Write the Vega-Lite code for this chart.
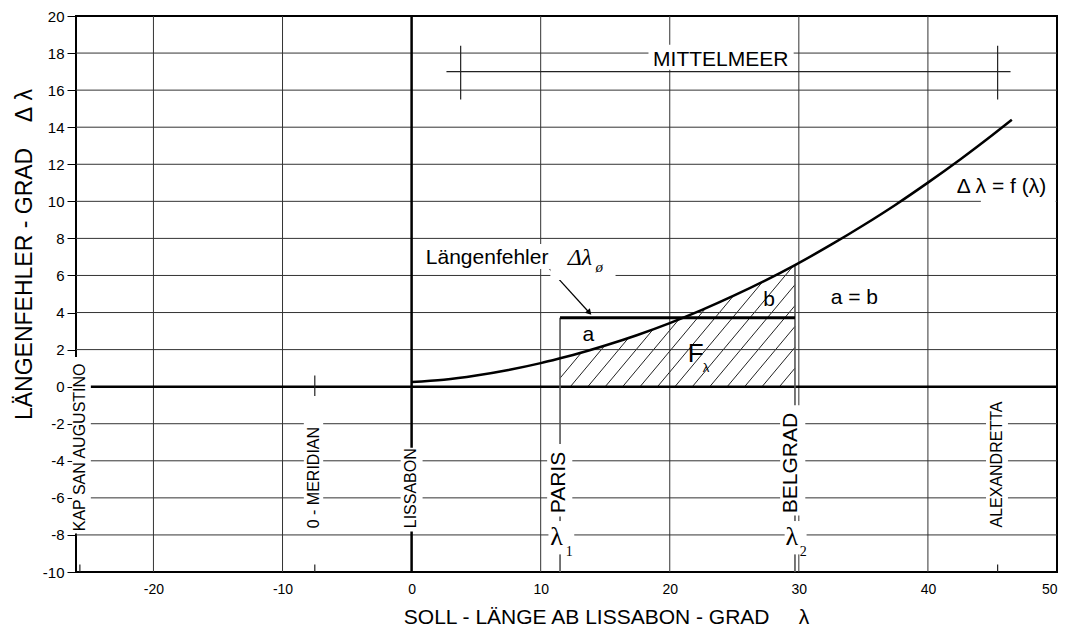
{
  "$schema": "https://vega.github.io/schema/vega-lite/v6.json",
  "width": 981,
  "height": 556,
  "autosize": {"type": "none"},
  "padding": {"left": 76, "top": 16, "right": 14, "bottom": 62},
  "background": "white",
  "config": {
    "view": {"stroke": "black", "strokeWidth": 2},
    "font": "Liberation Sans",
    "mark": {"color": "black"}
  },
  "datasets": {
    "curve": [
      {"x": 0, "y": 0.25}, {"x": 2.5, "y": 0.37}, {"x": 5, "y": 0.6}, {"x": 7.5, "y": 0.9},
      {"x": 10, "y": 1.27}, {"x": 11.5, "y": 1.53}, {"x": 12.5, "y": 1.71}, {"x": 15, "y": 2.22},
      {"x": 17.5, "y": 2.79}, {"x": 20, "y": 3.43}, {"x": 22.5, "y": 4.14}, {"x": 25, "y": 4.92},
      {"x": 27.5, "y": 5.76}, {"x": 29.7, "y": 6.56}, {"x": 32.5, "y": 7.66}, {"x": 35, "y": 8.71},
      {"x": 37.5, "y": 9.82}, {"x": 40, "y": 11.01}, {"x": 42.5, "y": 12.26}, {"x": 45, "y": 13.58},
      {"x": 46.5, "y": 14.4}
    ],
    "mask": [
      {"x": 11.5, "y": 1.53, "top": 7.3}, {"x": 12.5, "y": 1.71, "top": 7.3}, {"x": 15, "y": 2.22, "top": 7.3},
      {"x": 17.5, "y": 2.79, "top": 7.3}, {"x": 20, "y": 3.43, "top": 7.3}, {"x": 22.5, "y": 4.14, "top": 7.3},
      {"x": 25, "y": 4.92, "top": 7.3}, {"x": 27.5, "y": 5.76, "top": 7.3}, {"x": 29.7, "y": 6.56, "top": 7.3}
    ],
    "hatch": [
      {"x": 11.5, "y": 0.458, "x2": 19.35, "y2": 7},
      {"x": 12.3, "y": 0, "x2": 20.7, "y2": 7},
      {"x": 13.65, "y": 0, "x2": 22.05, "y2": 7},
      {"x": 15.0, "y": 0, "x2": 23.4, "y2": 7},
      {"x": 16.35, "y": 0, "x2": 24.75, "y2": 7},
      {"x": 17.7, "y": 0, "x2": 26.1, "y2": 7},
      {"x": 19.05, "y": 0, "x2": 27.45, "y2": 7},
      {"x": 20.4, "y": 0, "x2": 28.8, "y2": 7},
      {"x": 21.75, "y": 0, "x2": 29.7, "y2": 6.625},
      {"x": 23.1, "y": 0, "x2": 29.7, "y2": 5.5},
      {"x": 24.45, "y": 0, "x2": 29.7, "y2": 4.375},
      {"x": 25.8, "y": 0, "x2": 29.7, "y2": 3.25},
      {"x": 27.15, "y": 0, "x2": 29.7, "y2": 2.125},
      {"x": 28.5, "y": 0, "x2": 29.7, "y2": 1.0}
    ],
    "grid": [
      {"x": -20, "y": -10, "x2": -20, "y2": 20},
      {"x": -10, "y": -10, "x2": -10, "y2": 20},
      {"x": 10, "y": -10, "x2": 10, "y2": 20},
      {"x": 20, "y": -10, "x2": 20, "y2": 20},
      {"x": 30, "y": -10, "x2": 30, "y2": 20},
      {"x": 40, "y": -10, "x2": 40, "y2": 20},
      {"x": -26, "y": -8, "x2": 50, "y2": -8},
      {"x": -26, "y": -6, "x2": 50, "y2": -6},
      {"x": -26, "y": -4, "x2": 50, "y2": -4},
      {"x": -26, "y": -2, "x2": 50, "y2": -2},
      {"x": -26, "y": 2, "x2": 50, "y2": 2},
      {"x": -26, "y": 4, "x2": 50, "y2": 4},
      {"x": -26, "y": 6, "x2": 50, "y2": 6},
      {"x": -26, "y": 8, "x2": 50, "y2": 8},
      {"x": -26, "y": 10, "x2": 50, "y2": 10},
      {"x": -26, "y": 12, "x2": 50, "y2": 12},
      {"x": -26, "y": 14, "x2": 50, "y2": 14},
      {"x": -26, "y": 16, "x2": 50, "y2": 16},
      {"x": -26, "y": 18, "x2": 50, "y2": 18}
    ],
    "zerolines": [
      {"x": 0, "y": -10, "x2": 0, "y2": 20},
      {"x": -26, "y": 0, "x2": 50, "y2": 0}
    ],
    "citylines": [
      {"x": 11.5, "y": -10, "x2": 11.5, "y2": 3.72},
      {"x": 29.7, "y": -10, "x2": 29.7, "y2": 6.56}
    ],
    "ticks": [
      {"x": -7.5, "y": -0.5, "x2": -7.5, "y2": 0.6},
      {"x": -7.5, "y": -10, "x2": -7.5, "y2": -9.6},
      {"x": -25.7, "y": -10, "x2": -25.7, "y2": -9.6},
      {"x": 45.4, "y": -10, "x2": 45.4, "y2": -9.6},
      {"x": 2.7, "y": 17, "x2": 46.4, "y2": 17},
      {"x": 3.8, "y": 15.5, "x2": 3.8, "y2": 18.4},
      {"x": 45.4, "y": 15.5, "x2": 45.4, "y2": 18.4}
    ],
    "lenline": [{"x": 11.5, "y": 3.72, "x2": 29.7, "y2": 3.72}],
    "arrow": [{"x": 10.7, "y": 6.34, "x2": 13.72, "y2": 4.03}],
    "arrowhead": [{"x": 13.72, "y": 4.03}],
    "boxes": [
      {"x": -26.3, "x2": -24.85, "y": -7.92, "y2": 1.6},
      {"x": -8.35, "x2": -6.85, "y": -7.85, "y2": -1.95},
      {"x": -0.85, "x2": 0.85, "y": -7.82, "y2": -3.3},
      {"x": 10.5, "x2": 12.45, "y": -7.0, "y2": -3.1},
      {"x": 10.6, "x2": 12.6, "y": -9.05, "y2": -7.25},
      {"x": 28.55, "x2": 30.5, "y": -6.95, "y2": -1.0},
      {"x": 28.9, "x2": 30.6, "y": -9.05, "y2": -7.25},
      {"x": 44.5, "x2": 46.2, "y": -7.8, "y2": -0.6},
      {"x": 18.35, "x2": 29.6, "y": 17.1, "y2": 18.45},
      {"x": 1.0, "x2": 10.75, "y": 6.35, "y2": 7.7},
      {"x": 10.75, "x2": 15.8, "y": 5.75, "y2": 7.6},
      {"x": 44.1, "x2": 49.9, "y": 9.85, "y2": 10.4}
    ],
    "smallcity": [
      {"x": -25.7, "y": -7.8, "t": "KAP SAN AUGUSTINO"},
      {"x": -7.6, "y": -7.64, "t": "0 - MERIDIAN"},
      {"x": -0.02, "y": -7.64, "t": "LISSABON"},
      {"x": 45.35, "y": -7.6, "t": "ALEXANDRETTA"}
    ],
    "bigcity": [
      {"x": 11.43, "y": -6.83, "t": "PARIS"},
      {"x": 29.43, "y": -6.83, "t": "BELGRAD"}
    ],
    "lambdas": [
      {"x": 10.75, "y": -8.54, "t": "λ"},
      {"x": 28.97, "y": -8.54, "t": "λ"}
    ],
    "lambdasubs": [
      {"x": 11.94, "y": -9.13, "t": "1"},
      {"x": 30.08, "y": -9.13, "t": "2"}
    ],
    "centerlabels": [
      {"x": 13.7, "y": 2.48, "t": "a"},
      {"x": 27.7, "y": 4.36, "t": "b"},
      {"x": 34.3, "y": 4.45, "t": "a = b"},
      {"x": 23.95, "y": 17.31, "t": "MITTELMEER"},
      {"x": 45.7, "y": 10.43, "t": "Δ λ = f (λ)"}
    ],
    "leftlabels": [{"x": 1.1, "y": 6.62, "t": "Längenfehler"}],
    "dl": [{"x": 12.09, "y": 6.57, "t": "Δλ"}],
    "dlsub": [{"x": 14.25, "y": 6.2, "t": "ø"}],
    "F": [{"x": 21.4, "y": 1.35, "t": "F"}],
    "Fsub": [{"x": 22.55, "y": 0.81, "t": "λ"}]
  },
  "encoding": {
    "x": {
      "field": "x", "type": "quantitative",
      "scale": {"domain": [-26, 50], "nice": false, "zero": false},
      "axis": {
        "values": [-20, -10, 0, 10, 20, 30, 40, 50],
        "grid": false, "domain": false, "ticks": false, "labelOverlap": false,
        "labelExpr": "'' + datum.value",
        "labelPadding": 10, "labelFontSize": 14, "labelColor": "black", "labelFont": "Liberation Sans",
        "title": "SOLL - LÄNGE AB LISSABON - GRAD\u00a0\u00a0\u00a0\u00a0\u00a0λ",
        "titleFontSize": 21, "titleFontWeight": "normal", "titleColor": "black", "titleFont": "Liberation Sans",
        "titlePadding": 10, "titleX": 530
      }
    },
    "y": {
      "field": "y", "type": "quantitative",
      "scale": {"domain": [-10, 20], "nice": false, "zero": false},
      "axis": {
        "values": [-10, -8, -6, -4, -2, 0, 2, 4, 6, 8, 10, 12, 14, 16, 18, 20],
        "grid": false, "domain": false, "ticks": true, "tickSize": 9, "tickColor": "black", "tickWidth": 1,
        "labelOverlap": false, "labelExpr": "'' + datum.value",
        "labelPadding": 3, "labelFontSize": 15, "labelColor": "black", "labelFont": "Liberation Sans",
        "title": "LÄNGENFEHLER - GRAD\u00a0\u00a0\u00a0\u00a0Δ\u00a0λ",
        "titleFontSize": 23, "titleFontWeight": "normal", "titleColor": "black", "titleFont": "Liberation Sans",
        "titlePadding": 6, "titleY": 238
      }
    }
  },
  "layer": [
    {
      "data": {"name": "hatch"},
      "mark": {"type": "rule", "strokeWidth": 1, "color": "#222"},
      "encoding": {"x2": {"field": "x2"}, "y2": {"field": "y2"}}
    },
    {
      "data": {"name": "mask"},
      "mark": {"type": "area", "color": "white", "fill": "white", "opacity": 1, "interpolate": "monotone"},
      "encoding": {"y2": {"field": "top"}}
    },
    {
      "data": {"name": "grid"},
      "mark": {"type": "rule", "strokeWidth": 1, "color": "#333"},
      "encoding": {"x2": {"field": "x2"}, "y2": {"field": "y2"}}
    },
    {
      "data": {"name": "zerolines"},
      "mark": {"type": "rule", "strokeWidth": 2.5, "color": "black"},
      "encoding": {"x2": {"field": "x2"}, "y2": {"field": "y2"}}
    },
    {
      "data": {"name": "citylines"},
      "mark": {"type": "rule", "strokeWidth": 1.6, "color": "#555"},
      "encoding": {"x2": {"field": "x2"}, "y2": {"field": "y2"}}
    },
    {
      "data": {"name": "ticks"},
      "mark": {"type": "rule", "strokeWidth": 1.2, "color": "#222"},
      "encoding": {"x2": {"field": "x2"}, "y2": {"field": "y2"}}
    },
    {
      "data": {"name": "lenline"},
      "mark": {"type": "rule", "strokeWidth": 3, "color": "black"},
      "encoding": {"x2": {"field": "x2"}, "y2": {"field": "y2"}}
    },
    {
      "data": {"name": "curve"},
      "mark": {"type": "line", "strokeWidth": 2.5, "color": "black", "interpolate": "monotone"},
      "encoding": {}
    },
    {
      "data": {"name": "arrow"},
      "mark": {"type": "rule", "strokeWidth": 1.2, "color": "black"},
      "encoding": {"x2": {"field": "x2"}, "y2": {"field": "y2"}}
    },
    {
      "data": {"name": "arrowhead"},
      "mark": {"type": "point", "shape": "triangle", "angle": 138, "size": 45, "filled": true, "color": "black", "opacity": 1}
    },
    {
      "data": {"name": "boxes"},
      "mark": {"type": "rect", "color": "white", "fill": "white", "opacity": 1},
      "encoding": {"x2": {"field": "x2"}, "y2": {"field": "y2"}}
    },
    {
      "data": {"name": "smallcity"},
      "mark": {"type": "text", "angle": 270, "align": "left", "baseline": "middle", "fontSize": 16, "font": "Liberation Sans", "color": "black"},
      "encoding": {"text": {"field": "t"}}
    },
    {
      "data": {"name": "bigcity"},
      "mark": {"type": "text", "angle": 270, "align": "left", "baseline": "middle", "fontSize": 21, "font": "Liberation Sans", "color": "black"},
      "encoding": {"text": {"field": "t"}}
    },
    {
      "data": {"name": "lambdas"},
      "mark": {"type": "text", "align": "left", "baseline": "alphabetic", "fontSize": 26, "font": "Liberation Serif", "color": "black"},
      "encoding": {"text": {"field": "t"}}
    },
    {
      "data": {"name": "lambdasubs"},
      "mark": {"type": "text", "align": "left", "baseline": "alphabetic", "fontSize": 14, "font": "Liberation Serif", "color": "black"},
      "encoding": {"text": {"field": "t"}}
    },
    {
      "data": {"name": "centerlabels"},
      "mark": {"type": "text", "align": "center", "baseline": "alphabetic", "fontSize": 21, "font": "Liberation Sans", "color": "black"},
      "encoding": {"text": {"field": "t"}}
    },
    {
      "data": {"name": "leftlabels"},
      "mark": {"type": "text", "align": "left", "baseline": "alphabetic", "fontSize": 21, "font": "Liberation Sans", "color": "black"},
      "encoding": {"text": {"field": "t"}}
    },
    {
      "data": {"name": "dl"},
      "mark": {"type": "text", "align": "left", "baseline": "alphabetic", "fontSize": 24, "font": "Liberation Serif", "fontStyle": "italic", "color": "black"},
      "encoding": {"text": {"field": "t"}}
    },
    {
      "data": {"name": "dlsub"},
      "mark": {"type": "text", "align": "left", "baseline": "alphabetic", "fontSize": 15, "font": "Liberation Serif", "fontStyle": "italic", "color": "black"},
      "encoding": {"text": {"field": "t"}}
    },
    {
      "data": {"name": "F"},
      "mark": {"type": "text", "align": "left", "baseline": "alphabetic", "fontSize": 26, "font": "Liberation Sans", "color": "black"},
      "encoding": {"text": {"field": "t"}}
    },
    {
      "data": {"name": "Fsub"},
      "mark": {"type": "text", "align": "left", "baseline": "alphabetic", "fontSize": 13, "font": "Liberation Sans", "color": "black"},
      "encoding": {"text": {"field": "t"}}
    }
  ]
}
